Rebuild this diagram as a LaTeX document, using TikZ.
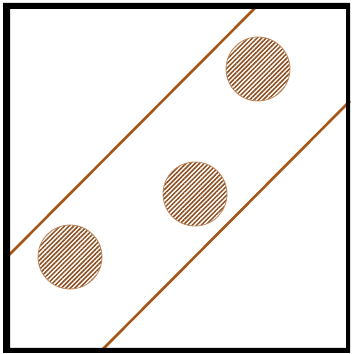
\documentclass[tikz,border=0pt]{standalone}
\usetikzlibrary{patterns.meta}
\definecolor{marrone}{RGB}{165,85,22}
\definecolor{tratteggio}{RGB}{140,78,30}
\tikzset{
  cerchio/.style={circle,minimum size=64pt,inner sep=0pt,draw=marrone!70,line width=0.8pt,
    pattern={Lines[angle=45,distance=3.2pt,line width=1.5pt]},pattern color=tratteggio},
  retta/.style={draw=marrone,line width=2.6pt}
}
\begin{document}
\begin{tikzpicture}[x=1pt,y=1pt]
        \useasboundingbox (0,0) rectangle (352,354);
        % Rette
        \coordinate (a0) at (8,98);
        \coordinate (a1) at (257,348);
        \coordinate (b0) at (102,4);
        \coordinate (b1) at (350,253);
        \draw [retta] (a0) -- (a1);
        \draw [retta] (b0) -- (b1);
        % Cerchi
        \node [cerchio] (c1) at (70,97) {};
        \node [cerchio] (c2) at (195,160) {};
        \node [cerchio] (c3) at (258,285) {};
        % Cornice
        \fill [even odd rule] (3,1) rectangle (350,351) (10,6) rectangle (346,345);
    \end{tikzpicture}
\end{document}
